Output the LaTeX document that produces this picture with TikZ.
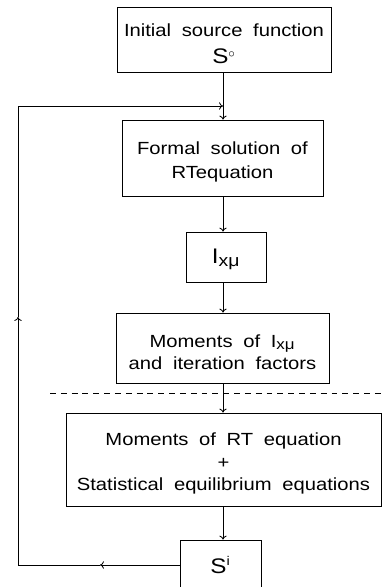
\documentclass[tikz,border=0pt]{standalone}
\usepackage{fontspec}
\setmainfont[FakeStretch=1.15,WordSpace=1.9]{Liberation Sans}
\usetikzlibrary{arrows, arrows.meta, calc}
\newcommand{\topstrut}{\rule{0pt}{15pt}}

\begin{document}
\begin{tikzpicture}[x=0.025cm, y=-0.025cm, >={To[length=2.8pt,width=5.2pt]}, line width=0.6pt,
        box/.style={draw, align=center, inner sep=0pt,
            font=\fontsize{12.5}{16}\selectfont}]
            \useasboundingbox (0,0) rectangle (382,587);
            \coordinate (axis) at (223,0);% vertical line of the main flow

            \node[box, minimum width=5.35cm, minimum height=1.625cm] (init) at (224,39.5)
                {\topstrut Initial source function\\[3pt] {\fontsize{15}{16}\selectfont S}\textsuperscript{$\circ$}};
            \node[box, minimum width=5.025cm, minimum height=1.9cm] (formal) at (222.5,158)
                {\topstrut Formal solution of\\[1pt] RTequation};
            \node[box, minimum width=2cm, minimum height=1.25cm] (ixmu) at (226,257)
                {\fontsize{15}{16}\selectfont\rule{0pt}{13pt}I\textsubscript{\fontsize{12}{12}\selectfont xμ}};
            \node[box, minimum width=5.325cm, minimum height=1.75cm] (moments) at (222.5,348)
                {\topstrut Moments of I\textsubscript{\fontsize{10.5}{12}\selectfont xμ}\\ and iteration factors};
            \node[box, minimum width=7.875cm, minimum height=2.325cm] (rteq) at (223.5,459.5)
                {\topstrut Moments of RT equation\\ +\\ Statistical equilibrium equations};
            \node[box, minimum width=2.025cm, minimum height=1.25cm] (si) at (220.5,565)
                {\fontsize{15}{16}\selectfont S\textsuperscript{\fontsize{9}{10}\selectfont i}};

            \draw[->] (init.south -| axis) -- (formal.north -| axis);
            \draw[->] (formal.south -| axis) -- (ixmu.north -| axis);
            \draw[->] (ixmu.south -| axis) -- (moments.north -| axis);
            \draw[->] (moments.south -| axis) -- (rteq.north -| axis);
            \draw[->] (rteq.south -| axis) -- (si.north -| axis);

            % feedback loop back to the formal solution
            \coordinate (fbA)   at (100,565);
            \coordinate (fbbot) at (18,565);
            \coordinate (fbB)   at (18,317);
            \coordinate (fbtop) at (18,106);
            \coordinate (fbend) at ($(axis)+(0,106)$);
            \draw[->] (si.west) -- (fbA);
            \draw[->] (fbA) -- (fbbot) -- (fbB);
            \draw[->] (fbB) -- (fbtop) -- (fbend);

            \coordinate (dashL) at (50,393);
            \coordinate (dashR) at (382,393);
            \draw[dash pattern=on 4.2pt off 3.5pt] (dashL) -- (dashR);
        \end{tikzpicture}
\end{document}
